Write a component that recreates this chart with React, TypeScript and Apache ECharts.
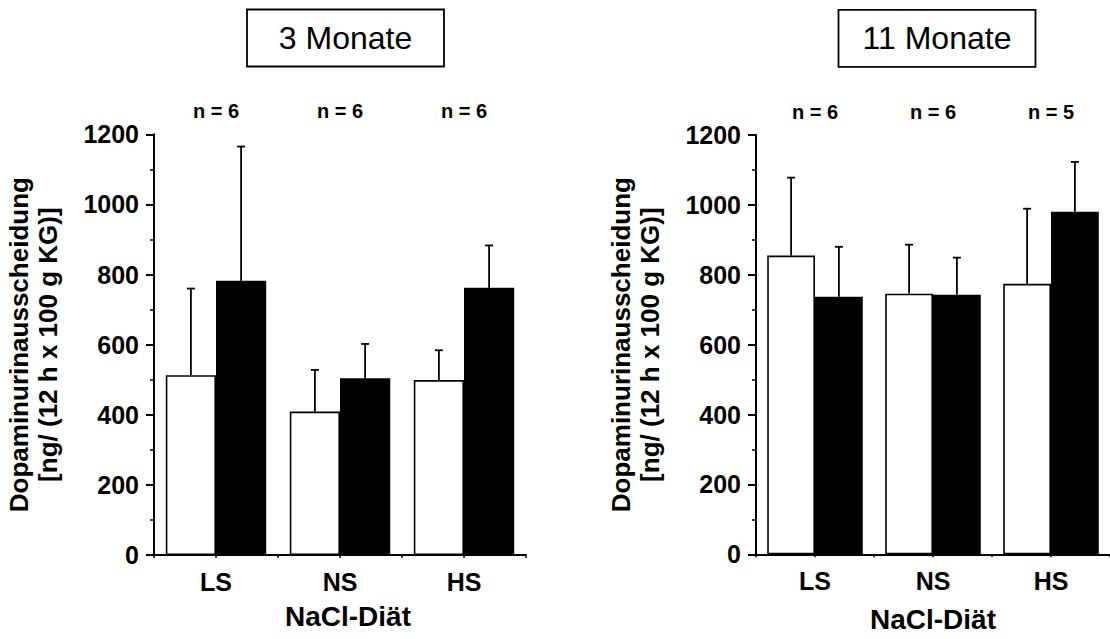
import React, { useEffect, useRef } from "react";
import * as echarts from "echarts";

const categories = ["LS", "NS", "HS"];
const yTicks = [0, 200, 400, 600, 800, 1000, 1200];

// 3 Monate
const m3White = [513, 409, 499];
const m3WhiteErr = [247, 119, 85];
const m3Black = [782, 504, 762];
const m3BlackErr = [383, 98, 121];
const m3N = [6, 6, 6];

// 11 Monate
const m11White = [855, 746, 774];
const m11WhiteErr = [223, 140, 215];
const m11Black = [737, 743, 980];
const m11BlackErr = [143, 106, 143];
const m11N = [6, 6, 5];

const panelTitles = ["3 Monate", "11 Monate"];
const yName = "Dopaminurinausscheidung\n[ng/ (12 h x 100 g KG)]";
const xName = "NaCl-Diät";

const FONT = "'Liberation Sans', Arial, Helvetica, sans-serif";

export default function App() {
  const ref = useRef<HTMLDivElement>(null);
  useEffect(() => {
    if (!ref.current) return;
    const chart = echarts.init(ref.current, null, { renderer: "svg" });

    const grids = [
      { left: 154, top: 134.3, width: 372, height: 420.7 },
      { left: 756, top: 135, width: 360, height: 419.3 },
    ];
    const xNameGaps = [47, 51];
    const xNamePads = [[0, 0, 0, 16], [0, 0, 0, 0]];

    const xAxes: any[] = [];
    const yAxes: any[] = [];
    grids.forEach((g, i) => {
      xAxes.push({
        type: "category",
        gridIndex: i,
        data: categories,
        position: "bottom",
        axisLine: { lineStyle: { color: "#000", width: 2 } },
        axisTick: { show: true, length: 3, interval: 0, lineStyle: { color: "#000", width: 1.5 } },
        axisLabel: { color: "#000", fontSize: 25, fontWeight: "bold", fontFamily: FONT, margin: 14 },
        name: xName,
        nameLocation: "middle",
        nameGap: xNameGaps[i],
        nameTextStyle: { color: "#000", fontSize: 28, fontWeight: "bold", fontFamily: FONT, padding: xNamePads[i] },
      });
      xAxes.push({
        type: "category",
        gridIndex: i,
        data: categories,
        position: "bottom",
        axisLine: { show: false },
        axisTick: { show: true, length: 3, alignWithLabel: true, lineStyle: { color: "#000", width: 1.5 } },
        axisLabel: { show: false },
      });
      yAxes.push({
        type: "value",
        gridIndex: i,
        min: yTicks[0],
        max: yTicks[yTicks.length - 1],
        interval: yTicks[1] - yTicks[0],
        axisLine: { show: true, lineStyle: { color: "#000", width: 2 } },
        axisTick: { show: true, length: 8, lineStyle: { color: "#000", width: 2 } },
        minorTick: { show: true, splitNumber: 2, length: 4, lineStyle: { color: "#000", width: 1.5 } },
        splitLine: { show: false },
        axisLabel: {
          color: "#000",
          fontSize: 25,
          fontWeight: "bold",
          fontFamily: FONT,
          margin: 15,
          formatter: (v: number) => String(v),
        },
        name: yName,
        nameLocation: "middle",
        nameRotate: 90,
        nameGap: 92,
        nameTextStyle: { color: "#000", fontSize: 26, fontWeight: "bold", fontFamily: FONT, lineHeight: 29, align: "center" },
      });
    });

    const panels = [
      { white: m3White, whiteErr: m3WhiteErr, black: m3Black, blackErr: m3BlackErr, n: m3N },
      { white: m11White, whiteErr: m11WhiteErr, black: m11Black, blackErr: m11BlackErr, n: m11N },
    ];

    const errRender = (sign: number) => (params: any, api: any) => {
      const c = api.value(0);
      const base = api.coord([c, api.value(1)]);
      const top = api.coord([c, api.value(2)]);
      const w = api.size([1, 0])[0];
      const x = base[0] + sign * 0.2025 * w;
      const cap = 4;
      return {
        type: "group",
        children: [
          { type: "line", shape: { x1: x, y1: base[1], x2: x, y2: top[1] }, style: { stroke: "#000", lineWidth: 1.8 } },
          { type: "line", shape: { x1: x - cap, y1: top[1], x2: x + cap, y2: top[1] }, style: { stroke: "#000", lineWidth: 1.8 } },
        ],
      };
    };

    const nRender = (params: any, api: any) => {
      const p = api.coord([api.value(0), yTicks[yTicks.length - 1]]);
      return {
        type: "text",
        x: p[0],
        y: p[1] - 23,
        style: {
          text: "n = " + api.value(1),
          fill: "#000",
          font: `bold 20px ${FONT}`,
          textAlign: "center",
          textVerticalAlign: "middle",
        },
      };
    };

    const series: any[] = [];
    panels.forEach((p, i) => {
      const xi = i * 2;
      series.push({
        type: "bar",
        xAxisIndex: xi,
        yAxisIndex: i,
        data: p.white,
        barGap: "0%",
        barCategoryGap: "19%",
        itemStyle: { color: "#fff", borderColor: "#000", borderWidth: 1.6 },
        z: 2,
      });
      series.push({
        type: "bar",
        xAxisIndex: xi,
        yAxisIndex: i,
        data: p.black,
        barGap: "0%",
        barCategoryGap: "19%",
        itemStyle: { color: "#000", borderColor: "#000", borderWidth: 1.6 },
        z: 2,
      });
      series.push({
        type: "custom",
        xAxisIndex: xi,
        yAxisIndex: i,
        data: p.white.map((v, k) => [k, v, v + p.whiteErr[k]]),
        renderItem: errRender(-1),
        clip: false,
        z: 3,
      });
      series.push({
        type: "custom",
        xAxisIndex: xi,
        yAxisIndex: i,
        data: p.black.map((v, k) => [k, v, v + p.blackErr[k]]),
        renderItem: errRender(1),
        clip: false,
        z: 3,
      });
      series.push({
        type: "custom",
        xAxisIndex: xi,
        yAxisIndex: i,
        data: p.n.map((v, k) => [k, v]),
        renderItem: nRender,
        clip: false,
        z: 3,
      });
    });

    const boxes = [
      { cx: 345.5, cy: 38, w: 197, h: 57 },
      { cx: 937, cy: 38.3, w: 197, h: 57 },
    ];
    const graphic: any[] = boxes.map((b, i) => ({
      type: "group",
      children: [
        {
          type: "rect",
          shape: { x: b.cx - b.w / 2, y: b.cy - b.h / 2, width: b.w, height: b.h },
          style: { fill: "#fff", stroke: "#000", lineWidth: 1.8 },
        },
        {
          type: "text",
          x: b.cx,
          y: b.cy,
          style: {
            text: panelTitles[i],
            fill: "#000",
            font: `32px ${FONT}`,
            textAlign: "center",
            textVerticalAlign: "middle",
          },
        },
      ],
    }));

    chart.setOption({
      animation: false,
      backgroundColor: "#fff",
      grid: grids.map((g) => ({ ...g, containLabel: false })),
      xAxis: xAxes,
      yAxis: yAxes,
      series,
      graphic,
    });

    return () => chart.dispose();
  }, []);

  return (
    <div
      ref={ref}
      style={{ position: "fixed", left: 0, top: 0, width: 1110, height: 639, background: "#fff" }}
    />
  );
}
